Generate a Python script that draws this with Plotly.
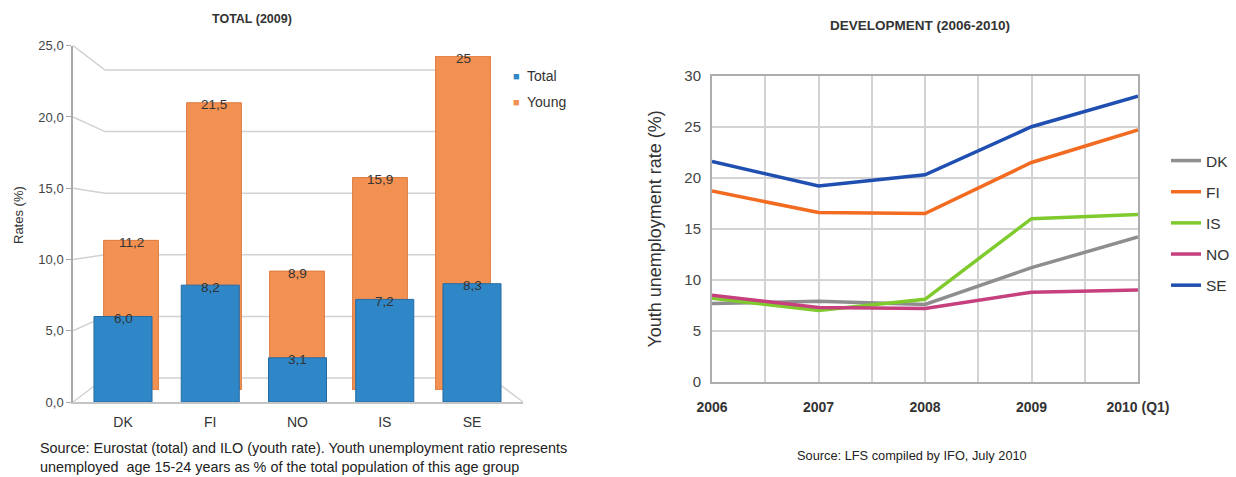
import plotly.graph_objects as go

# ---- data -------------------------------------------------------------
countries = ["DK", "FI", "NO", "IS", "SE"]
total_2009 = [6.0, 8.2, 3.1, 7.2, 8.3]
young_2009 = [11.2, 21.5, 8.9, 15.9, 25]

years = ["2006", "2007", "2008", "2009", "2010 (Q1)"]
series_names = ["DK", "FI", "IS", "NO", "SE"]
dk = [7.7, 7.9, 7.6, 11.2, 14.2]
fi = [18.7, 16.6, 16.5, 21.5, 24.7]
is_ = [8.2, 7.0, 8.1, 16.0, 16.4]
no = [8.5, 7.3, 7.2, 8.8, 9.0]
se = [21.6, 19.2, 20.3, 25.0, 28.0]
series_values = [dk, fi, is_, no, se]
series_colors = ["#8e8e8e", "#f26b21", "#7fcb2e", "#c5407c", "#1f4fb0"]

left_ticks = [0, 5, 10, 15, 20, 25]

BLUE = "#2f87c8"
ORANGE = "#f39152"
FONT = "Liberation Sans, Arial, sans-serif"
TXT = "#333333"

W, H = 1236, 477


def fx(p):
    return p / W


def fy(p):
    return 1 - p / H


def label(v):
    return str(v).replace(".", ",")


def text_at(x, y, text, size, color=TXT, xanchor="center", **kw):
    return dict(x=fx(x), y=fy(y), xref="paper", yref="paper", text=text,
                showarrow=False, xanchor=xanchor, yanchor="middle",
                font=dict(size=size, color=color, family=FONT), **kw)


fig = go.Figure()

# geometry of the pseudo-3D bar chart (pixels)
BACK_TOP, BACK_BOTTOM, BACK_LEFT, BACK_RIGHT = 70, 378, 105, 491
MID_TOP, MID_BOTTOM = 56, 390            # young bars sit mid-depth
FRONT_TOP, FRONT_BOTTOM, FRONT_LEFT, FRONT_RIGHT = 45.7, 402, 73, 523

fig.add_trace(go.Bar(
    x=countries, y=young_2009, xaxis="x", yaxis="y", width=0.66,
    marker=dict(color=ORANGE, line=dict(color="#dc7a3e", width=1)),
    showlegend=False, hoverinfo="x+y"))
fig.add_trace(go.Bar(
    x=countries, y=total_2009, xaxis="x2", yaxis="y2", width=0.665,
    marker=dict(color=BLUE, line=dict(color="#236aa3", width=1)),
    showlegend=False, hoverinfo="x+y"))

for name, vals, col in zip(series_names, series_values, series_colors):
    fig.add_trace(go.Scatter(
        x=list(range(len(years))), y=vals, mode="lines", name=name,
        legendgroup=name, line=dict(color=col, width=3.5),
        xaxis="x3", yaxis="y3"))

annotations = []
for c, v in zip(countries, young_2009):
    annotations.append(dict(x=c, y=v, xref="x", yref="y", text=label(v),
                            showarrow=False, xanchor="center", yanchor="middle",
                            yshift=-2, font=dict(size=13.5, color=TXT, family=FONT)))
for c, v in zip(countries, total_2009):
    annotations.append(dict(x=c, y=v, xref="x2", yref="y2", text=label(v),
                            showarrow=False, xanchor="center", yanchor="middle",
                            yshift=-2, font=dict(size=13.5, color=TXT, family=FONT)))

# legend of the bar chart
for i, (name, col) in enumerate([("Total", BLUE), ("Young", ORANGE)]):
    yy = 76 + 26 * i
    annotations.append(text_at(511, yy, "■", 11, color=col, xanchor="left"))
    annotations.append(text_at(525, yy, name, 14, xanchor="left"))

# titles, axis titles and sources
annotations += [
    text_at(252, 19, "<b>TOTAL (2009)</b>", 12.5),
    text_at(920, 25, "<b>DEVELOPMENT (2006-2010)</b>", 13.5),
    text_at(18, 215, "Rates (%)", 13, textangle=-90),
    text_at(38, 457,
            "Source: Eurostat (total) and ILO (youth rate). Youth unemployment ratio represents"
            "<br>unemployed  age 15-24 years as % of the total population of this age group",
            14.4, color="#222222", xanchor="left", align="left"),
    text_at(912, 455, "Source: LFS compiled by IFO, July 2010", 12.8, color="#222222"),
]

# back wall: each gridline runs from its front tick, slants back, then across
shapes = []
for v in left_ticks:
    yf = FRONT_BOTTOM - v * (FRONT_BOTTOM - FRONT_TOP) / 25
    yb = BACK_BOTTOM - v * (BACK_BOTTOM - BACK_TOP) / 25
    path = (f"M {fx(FRONT_LEFT)} {fy(yf)} L {fx(BACK_LEFT)} {fy(yb)} "
            f"L {fx(BACK_RIGHT)} {fy(yb)}")
    shapes.append(dict(type="path", path=path, xref="paper", yref="paper",
                       layer="below", line=dict(color="#d2d2d2", width=1.5)))
shapes.append(dict(type="line", xref="paper", yref="paper", layer="below",
                   x0=fx(FRONT_RIGHT), y0=fy(FRONT_BOTTOM), x1=fx(BACK_RIGHT),
                   y1=fy(BACK_BOTTOM), line=dict(color="#d2d2d2", width=1.5)))

hidden = dict(showgrid=False, showticklabels=False, zeroline=False,
              showline=False, ticks="", fixedrange=True, automargin=False)

# front category axis: centres of the total bars at 123 px and 472 px
unit = (472 - 123) / 4
front_range = [-(123 - FRONT_LEFT) / unit, 4 + (FRONT_RIGHT - 472) / unit]

fig.update_layout(
    width=W, height=H,
    margin=dict(l=0, r=0, t=0, b=0, autoexpand=False),
    paper_bgcolor="white", plot_bgcolor="rgba(0,0,0,0)",
    separators=", ",
    font=dict(family=FONT, color=TXT),
    barmode="overlay",
    # young bars
    xaxis=dict(domain=[fx(131 - 41.5), fx(463 + 41.5)], range=[-0.5, 4.5],
               anchor="y", type="category", **hidden),
    yaxis=dict(domain=[fy(MID_BOTTOM), fy(MID_TOP)], range=[0, 25],
               anchor="x", **hidden),
    # front axes with total bars
    xaxis2=dict(domain=[fx(FRONT_LEFT), fx(FRONT_RIGHT)], range=front_range,
                anchor="y2", type="category", showgrid=False, zeroline=False,
                showline=True, linecolor="#c4c4c4", linewidth=1.5,
                ticks="outside", ticklen=6, tickcolor="rgba(0,0,0,0)",
                tickfont=dict(size=14, color=TXT, family=FONT), fixedrange=True,
                automargin=False),
    yaxis2=dict(domain=[fy(FRONT_BOTTOM), fy(FRONT_TOP)], range=[0, 25],
                anchor="x2", tickvals=left_ticks, tickformat=".1f",
                showgrid=False, zeroline=False, showline=True,
                linecolor="#a8a8a8", linewidth=1.5, ticks="outside", ticklen=5,
                tickcolor="#a8a8a8", tickfont=dict(size=13, color="#444444", family=FONT),
                fixedrange=True, automargin=False),
    # line chart
    xaxis3=dict(domain=[fx(712), fx(1138)], range=[0, 4], anchor="y3",
                tickvals=list(range(len(years))), ticktext=years,
                showgrid=True, gridcolor="#d3d3d3", gridwidth=1.5,
                minor=dict(dtick=0.5, tick0=0, showgrid=True, gridcolor="#d3d3d3",
                           gridwidth=1.5, ticks=""),
                zeroline=False, showline=True, mirror=True, linecolor="#adadad",
                linewidth=2, ticks="outside", ticklen=11, tickcolor="rgba(0,0,0,0)",
                tickfont=dict(size=14, color="#333333", family=FONT, weight="bold"),
                fixedrange=True, automargin=False),
    yaxis3=dict(domain=[fy(382), fy(75.7)], range=[0, 30], dtick=5, anchor="x3",
                showgrid=True, gridcolor="#d3d3d3", gridwidth=1.5, zeroline=False,
                showline=True, mirror=True, linecolor="#adadad", linewidth=2,
                ticks="outside", ticklen=6, tickcolor="rgba(0,0,0,0)",
                tickfont=dict(size=15, color="#444444", family=FONT),
                title=dict(text="Youth unemployment rate (%)", standoff=18,
                           font=dict(size=18, color="#333333", family=FONT)),
                fixedrange=True, automargin=False),
    legend=dict(x=fx(1166), y=fy(144), xanchor="left", yanchor="top",
                font=dict(size=15.5, color="#333333", family=FONT),
                tracegroupgap=8, itemwidth=30, bgcolor="rgba(0,0,0,0)"),
    annotations=annotations,
    shapes=shapes,
)

fig.write_html("out.html")
